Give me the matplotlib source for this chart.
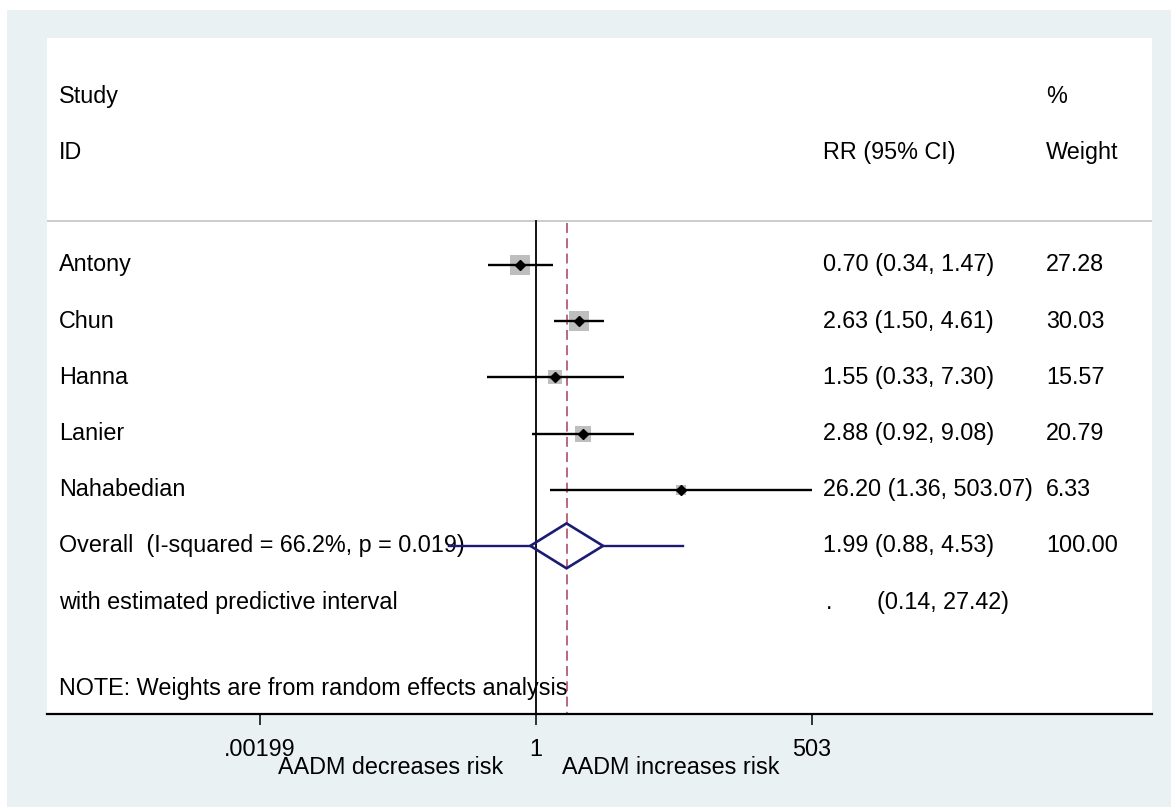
import numpy as np
import matplotlib
matplotlib.use("Agg")
import matplotlib.pyplot as plt
from matplotlib.patches import Rectangle, Polygon
import matplotlib.transforms as mtransforms

plt.rcParams['font.family'] = ['Liberation Sans', 'DejaVu Sans']

# ---------------- data ----------------
studies = ["Antony", "Chun", "Hanna", "Lanier", "Nahabedian"]
rr = [0.70, 2.63, 1.55, 2.88, 26.20]
ci_lo = [0.34, 1.50, 0.33, 0.92, 1.36]
ci_hi = [1.47, 4.61, 7.30, 9.08, 503.07]
weights = [27.28, 30.03, 15.57, 20.79, 6.33]
ci_text = ["0.70 (0.34, 1.47)", "2.63 (1.50, 4.61)", "1.55 (0.33, 7.30)",
           "2.88 (0.92, 9.08)", "26.20 (1.36, 503.07)"]
weight_text = ["27.28", "30.03", "15.57", "20.79", "6.33"]

overall_label = "Overall  (I-squared = 66.2%, p = 0.019)"
overall_rr = 1.99
overall_lo = 0.88
overall_hi = 4.53
overall_text = "1.99 (0.88, 4.53)"
overall_weight = "100.00"
pred_label = "with estimated predictive interval"
pred_lo = 0.14
pred_hi = 27.42
pred_text = "(0.14, 27.42)"
note = "NOTE: Weights are from random effects analysis"

tick_vals = [0.00199, 1, 503]
tick_labels = [".00199", "1", "503"]
left_title = "AADM decreases risk"
right_title = "AADM increases risk"

# ---------------- figure ----------------
W, H = 1171, 807
fig = plt.figure(figsize=(W / 100, H / 100), dpi=100, facecolor="white")
bg = "#E9F1F3"
bgrect = Rectangle((7 / W, 0), 1 - 7 / W, (H - 10) / H,
                   transform=fig.transFigure, facecolor=bg,
                   edgecolor="none", zorder=-5)
fig.add_artist(bgrect)

ax_l, ax_r, ax_t, ax_b = 47, 1152, 38, 714
ax = fig.add_axes([ax_l / W, 1 - ax_b / H, (ax_r - ax_l) / W, (ax_b - ax_t) / H])
ax.set_zorder(1)
ax.set_facecolor("white")

px_per_ln = 44.37
x_one = 536
ax.set_xscale("log")
ax.set_xlim(np.exp((ax_l - x_one) / px_per_ln), np.exp((ax_r - x_one) / px_per_ln))

row0_px, row_px = 265, 56.17
ax.set_ylim((ax_b - row0_px) / row_px, (ax_t - row0_px) / row_px)

for s in ["top", "right", "left"]:
    ax.spines[s].set_visible(False)
ax.spines["bottom"].set_linewidth(1.6)
ax.spines["bottom"].set_color("black")
ax.set_yticks([])
ax.set_xticks(tick_vals)
ax.set_xticklabels(tick_labels)
ax.minorticks_off()
ax.tick_params(axis="x", which="major", length=8, width=1.1, pad=9,
               labelsize=16.8, color="black")
ax.tick_params(axis="x", which="minor", length=0)

rows = np.arange(len(studies))
sep_row = (221 - row0_px) / row_px
ybot = (ax_b - row0_px) / row_px

# separator
ax.axhline(sep_row, color="#C8C8C8", lw=1.3, zorder=1)
# null line
ax.plot([1, 1], [sep_row, ybot], color="black", lw=1.3, zorder=2)
# overall dashed line
ax.plot([overall_rr, overall_rr], [sep_row + 0.03, ybot], color="#A8405A",
        lw=1.1, dashes=(6.5, 3.5), zorder=2)

# study boxes, CIs, point markers
for i in rows:
    side_px = 3.65 * np.sqrt(weights[i])
    ax.plot([rr[i]], [i], marker="s", markersize=side_px * 0.72,
            color="#BEBEBE", markeredgewidth=0, zorder=3)
    ax.plot([ci_lo[i], ci_hi[i]], [i, i], color="black", lw=1.7, zorder=4,
            solid_capstyle="butt")
    ax.plot([rr[i]], [i], marker="D", markersize=5, color="black", zorder=5)

# overall row
orow = len(studies)
ax.plot([pred_lo, overall_lo], [orow, orow], color="#1B1B73", lw=1.7, zorder=6)
ax.plot([overall_hi, pred_hi], [orow, orow], color="#1B1B73", lw=1.7, zorder=6)
h = 0.40
diamond = Polygon([(overall_lo, orow), (overall_rr, orow - h), (overall_hi, orow),
                   (overall_rr, orow + h)], closed=True, facecolor="none",
                  edgecolor="#1B1B73", lw=1.9, zorder=6)
ax.add_patch(diamond)

# ---------------- text ----------------
fs = 16.8
tr = mtransforms.blended_transform_factory(ax.transAxes, ax.transData)
def fx(px):
    return (px - ax_l) / (ax_r - ax_l)

xl, xc, xw = fx(59), fx(823), fx(1046)
ax.text(xl, -3, "Study", transform=tr, fontsize=fs, va="center", ha="left")
ax.text(xl, -2, "ID", transform=tr, fontsize=fs, va="center", ha="left")
ax.text(xc, -2, "RR (95% CI)", transform=tr, fontsize=fs, va="center", ha="left")
ax.text(xw, -3, "%", transform=tr, fontsize=fs, va="center", ha="left")
ax.text(xw, -2, "Weight", transform=tr, fontsize=fs, va="center", ha="left")

for i in rows:
    ax.text(xl, i, studies[i], transform=tr, fontsize=fs, va="center", ha="left")
    ax.text(xc, i, ci_text[i], transform=tr, fontsize=fs, va="center", ha="left")
    ax.text(xw, i, weight_text[i], transform=tr, fontsize=fs, va="center", ha="left")

ax.text(xl, orow, overall_label, transform=tr, fontsize=fs, va="center", ha="left", zorder=3)
ax.text(xc, orow, overall_text, transform=tr, fontsize=fs, va="center", ha="left")
ax.text(xw, orow, overall_weight, transform=tr, fontsize=fs, va="center", ha="left")
ax.text(xl, orow + 1, pred_label, transform=tr, fontsize=fs, va="center", ha="left")
ax.text(fx(826), orow + 1, ".", transform=tr, fontsize=fs, va="center", ha="left")
ax.text(fx(877), orow + 1, pred_text, transform=tr, fontsize=fs, va="center", ha="left")
ax.text(xl, (689 - row0_px) / row_px, note, transform=tr, fontsize=fs,
        va="center", ha="left")

ty = (ax_b - 768) / (ax_b - ax_t)
ax.text(fx(503), ty, left_title, transform=ax.transAxes, fontsize=fs,
        va="center", ha="right", clip_on=False)
ax.text(fx(562), ty, right_title, transform=ax.transAxes, fontsize=fs,
        va="center", ha="left", clip_on=False)

fig.savefig("out.png", dpi=100, facecolor="white")
